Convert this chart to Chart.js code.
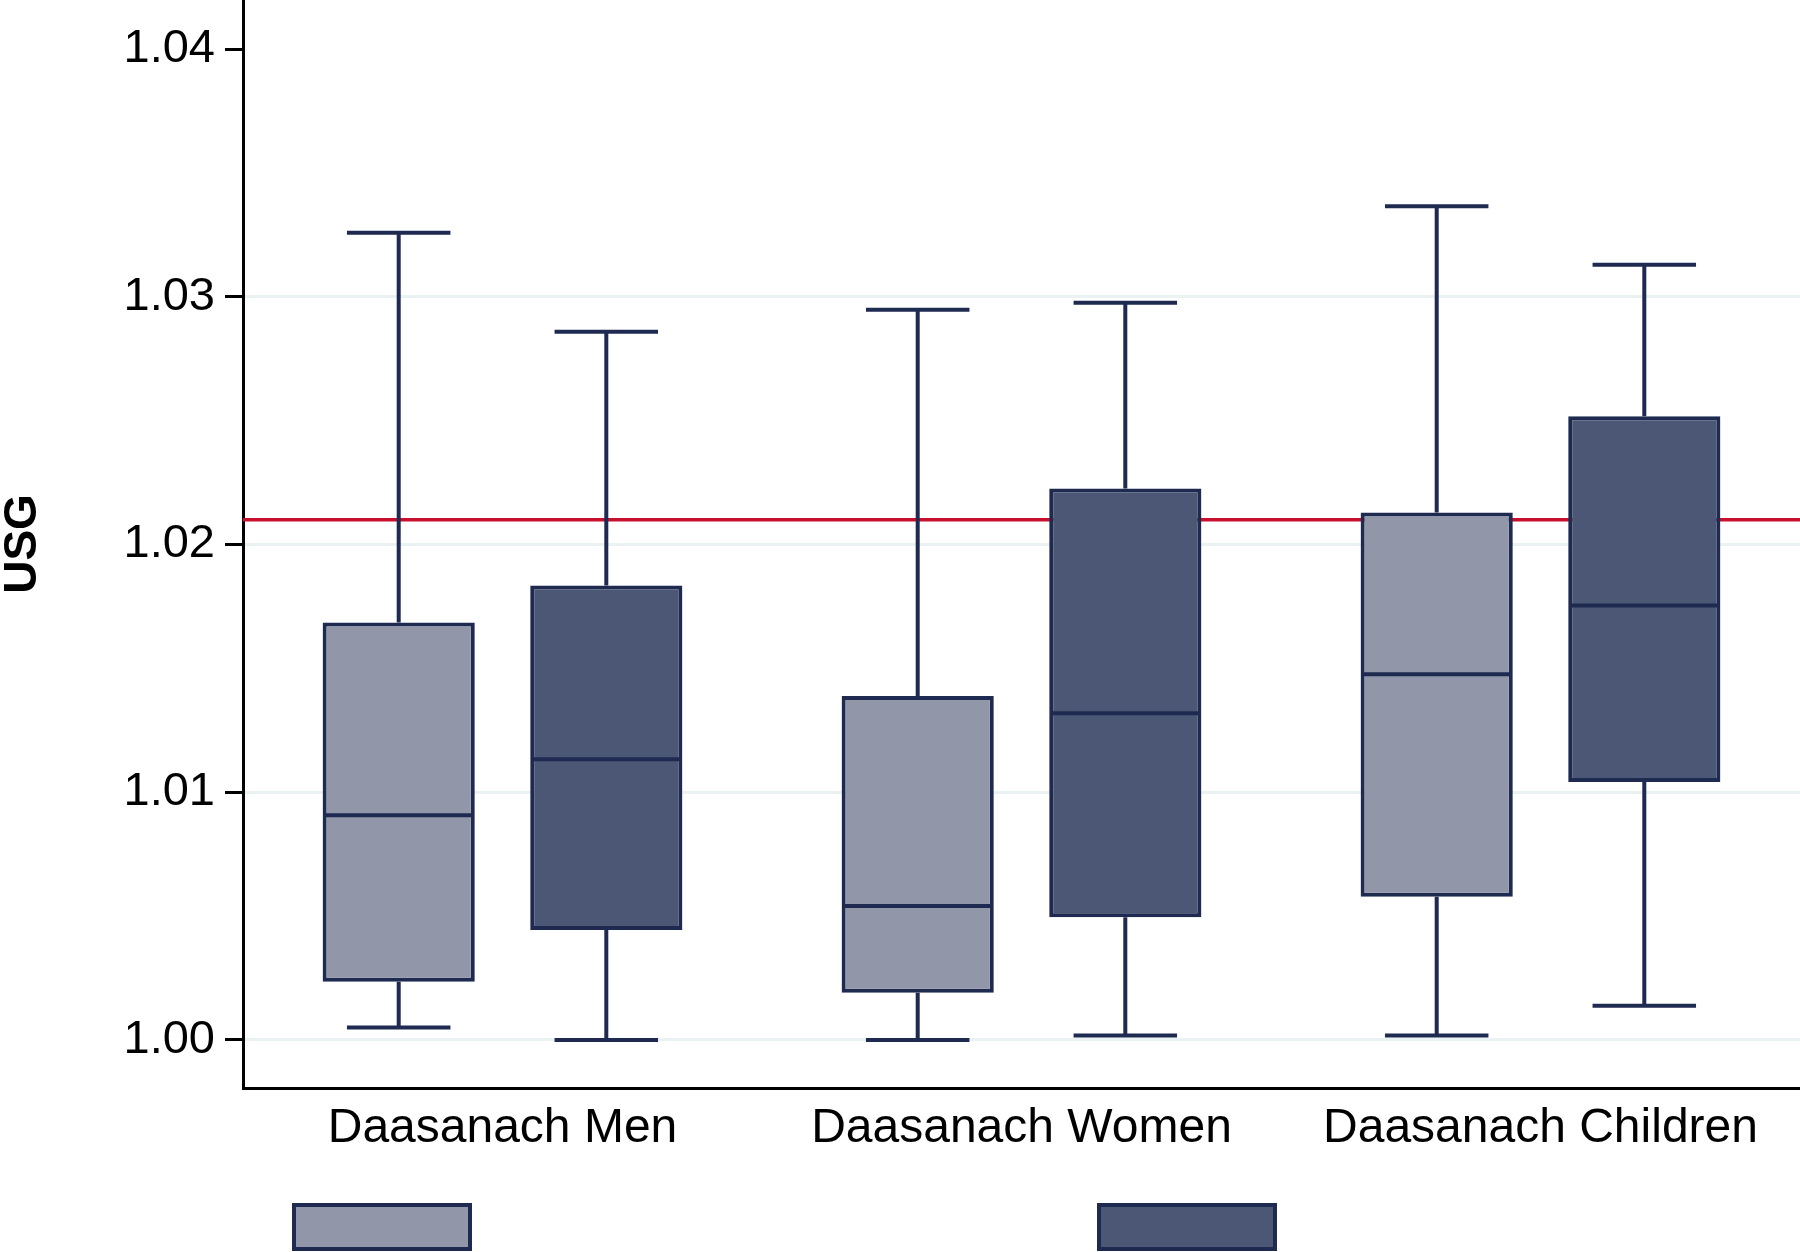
<!DOCTYPE html>
<html>
<head>
<meta charset="utf-8">
<script src="https://cdn.jsdelivr.net/npm/chart.js@4/dist/chart.umd.min.js"></script>
<style>
  html, body { margin: 0; padding: 0; background: #fff; }
  #wrap { width: 1800px; height: 1252px; position: relative; }
</style>
</head>
<body>
<div id="wrap"><canvas id="chart"></canvas></div>
<script>
// groups on the x axis
const groups = ['Daasanach Men', 'Daasanach Women', 'Daasanach Children'];
const yTicks = [1.00, 1.01, 1.02, 1.03, 1.04];
const refLine = 1.021;

// light boxes (first series)
const lightMin = [1.00050, 1.00000, 1.00018];
const lightQ1 = [1.00235, 1.00190, 1.00578];
const lightMed = [1.00907, 1.00541, 1.01476];
const lightQ3 = [1.01685, 1.01388, 1.02129];
const lightMax = [1.03258, 1.02948, 1.03365];

// dark boxes (second series)
const darkMin = [1.00000, 1.00018, 1.00138];
const darkQ1 = [1.00444, 1.00495, 1.01041];
const darkMed = [1.01133, 1.01319, 1.01754];
const darkQ3 = [1.01834, 1.02226, 1.02518];
const darkMax = [1.02859, 1.02976, 1.03129];

const LIGHT = '#9197a9';
const DARK = '#4b5775';
const EDGE = '#1f2a50';
const FONT = '"Liberation Sans", Arial, sans-serif';

const stats = [
    { min: lightMin, med: lightMed, max: lightMax },
    { min: darkMin, med: darkMed, max: darkMax },
];

// whiskers, caps and medians, placed with the bar elements and the y scale
const boxPlot = {
    id: 'boxPlot',
    beforeDatasetsDraw(chart) {
        let { ctx, chartArea, scales: { y } } = chart;
        let py = y.getPixelForValue(refLine);
        ctx.save();
        ctx.strokeStyle = '#c8102e';
        ctx.lineWidth = 3.5;
        ctx.beginPath();
        ctx.moveTo(chartArea.left, py);
        ctx.lineTo(chartArea.right, py);
        ctx.stroke();
        ctx.restore();
    },
    afterDatasetsDraw(chart) {
        let { ctx, scales: { y } } = chart;
        ctx.save();
        ctx.strokeStyle = EDGE;
        ctx.lineWidth = 4;
        stats.forEach((s, di) => {
            chart.getDatasetMeta(di).data.forEach((bar, i) => {
                let x = bar.x;
                let half = bar.width / 2 - 2;
                let cap = bar.width * 0.34;
                let top = Math.min(bar.y, bar.base);
                let bottom = Math.max(bar.y, bar.base);
                let pMax = y.getPixelForValue(s.max[i]);
                let pMin = y.getPixelForValue(s.min[i]);
                let pMed = y.getPixelForValue(s.med[i]);
                ctx.beginPath();
                ctx.moveTo(x, top);
                ctx.lineTo(x, pMax);
                ctx.moveTo(x - cap, pMax);
                ctx.lineTo(x + cap, pMax);
                ctx.moveTo(x, bottom);
                ctx.lineTo(x, pMin);
                ctx.moveTo(x - cap, pMin);
                ctx.lineTo(x + cap, pMin);
                ctx.moveTo(x - half, pMed);
                ctx.lineTo(x + half, pMed);
                ctx.stroke();
            });
        });
        ctx.restore();
    },
    afterDraw(chart) {
        // legend keys without text, as in the original
        let { ctx } = chart;
        ctx.save();
        [[292, LIGHT], [1097, DARK]].forEach(([left, fill]) => {
            ctx.fillStyle = EDGE;
            ctx.fillRect(left, 1203, 180, 48);
            ctx.fillStyle = fill;
            ctx.fillRect(left + 4, 1207, 172, 40);
        });
        ctx.restore();
    },
};

new Chart(document.getElementById('chart'), {
    type: 'bar',
    data: {
        labels: groups,
        datasets: [
            {
                label: 'light',
                data: lightQ1.map((q, i) => [q, lightQ3[i]]),
                backgroundColor: LIGHT,
            },
            {
                label: 'dark',
                data: darkQ1.map((q, i) => [q, darkQ3[i]]),
                backgroundColor: DARK,
            },
        ].map(d => ({
            ...d,
            borderColor: EDGE,
            borderWidth: 4,
            borderSkipped: false,
            categoryPercentage: 0.8,
            barPercentage: 0.733,
        })),
    },
    options: {
        responsive: true,
        maintainAspectRatio: false,
        animation: false,
        layout: { padding: 0 },
        plugins: {
            legend: { display: false },
            tooltip: { enabled: false },
        },
        scales: {
            x: {
                grid: { display: false, drawTicks: false },
                border: { color: '#000', width: 3 },
                ticks: {
                    color: '#000',
                    padding: 12,
                    font: { family: FONT, size: 48 },
                },
                afterFit: scale => { scale.height = 164; },
            },
            y: {
                min: 0.99806,
                max: 1.04198,
                afterBuildTicks: scale => {
                    scale.ticks = yTicks.map(v => ({ value: v }));
                },
                grid: {
                    color: c => (c.tick && c.tick.value >= 1.04 ? 'rgba(0,0,0,0)' : '#eaf2f3'),
                    lineWidth: 3,
                    tickColor: '#000',
                    tickWidth: 3,
                    tickLength: 18,
                },
                border: { color: '#000', width: 3 },
                ticks: {
                    color: '#000',
                    padding: 10,
                    font: { family: FONT, size: 47, lineHeight: 0.2 },
                    callback: v => v.toFixed(2),
                },
                title: {
                    display: true,
                    text: 'USG',
                    color: '#000',
                    padding: 0,
                    font: { family: FONT, size: 46, weight: 'bold', lineHeight: 1 },
                },
                afterFit: scale => {
                    scale.width = 243;
                    scale.paddingTop = 0;
                    scale.paddingBottom = 0;
                },
            },
        },
    },
    plugins: [boxPlot],
});
</script>
</body>
</html>
